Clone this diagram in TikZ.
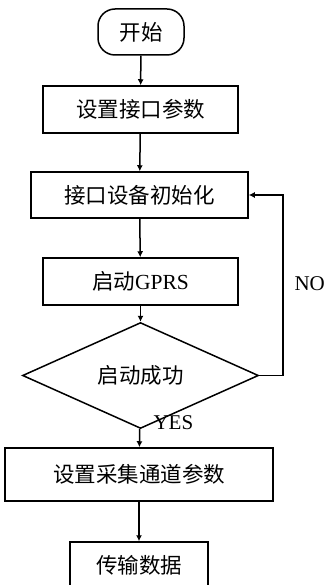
\documentclass[tikz,border=0pt]{standalone}
\usepackage{fontspec}
\setmainfont{Liberation Serif}
\newfontfamily\cjk{Noto Sans CJK SC}
\usetikzlibrary{arrows.meta,shapes.geometric}
\begin{document}
\begin{tikzpicture}[x=1pt,y=-1pt,
  every node/.style={font=\fontsize{21.5}{24}\selectfont},
  boxnode/.style={draw,line width=1.5pt,inner sep=0pt,align=center},
  startnode/.style={boxnode,rounded corners=17pt},
  decnode/.style={draw,line width=1.5pt,diamond,inner sep=0pt,minimum width=236pt,minimum height=65pt},
  flow/.style={line width=1.5pt,-{Latex[length=6pt,width=6pt]}},
  lbl/.style={font=\fontsize{21}{24}\selectfont}]
\clip (0,0) rectangle (325,585);
\node[startnode,minimum width=86pt,minimum height=46pt] (s) at (141,32) {\cjk 开始};
\node[boxnode,minimum width=195pt,minimum height=47pt] (b1) at (140.5,109.5) {\cjk 设置接口参数};
\node[boxnode,minimum width=217pt,minimum height=46pt] (b2) at (139.5,195) {\cjk 接口设备初始化};
\node[boxnode,minimum width=195pt,minimum height=47pt] (b3) at (140.5,281.5) {{\cjk 启动}GPRS};
\node[decnode] (d) at (140.5,375.5) {\cjk 启动成功};
\node[boxnode,minimum width=268pt,minimum height=53pt] (b4) at (139,474.5) {\cjk 设置采集通道参数};
\node[boxnode,minimum width=138pt,minimum height=46pt] (b5) at (139,565) {\cjk 传输数据};
\draw[flow] (s) -- (b1);
\draw[flow] (b1) -- (b2);
\draw[flow] (b2) -- (b3);
\draw[flow] (b3) -- (d);
\draw[flow] (d) -- (b4);
\draw[flow] (b4) -- (b5);
\coordinate (r) at (283,375.5);
\draw[flow] (d.east) -- (r) |- (b2.east);
\node[lbl,anchor=west] (no) at (291,284) {NO};
\node[lbl,anchor=west] (yes) at (150,423) {YES};
\end{tikzpicture}
\end{document}
